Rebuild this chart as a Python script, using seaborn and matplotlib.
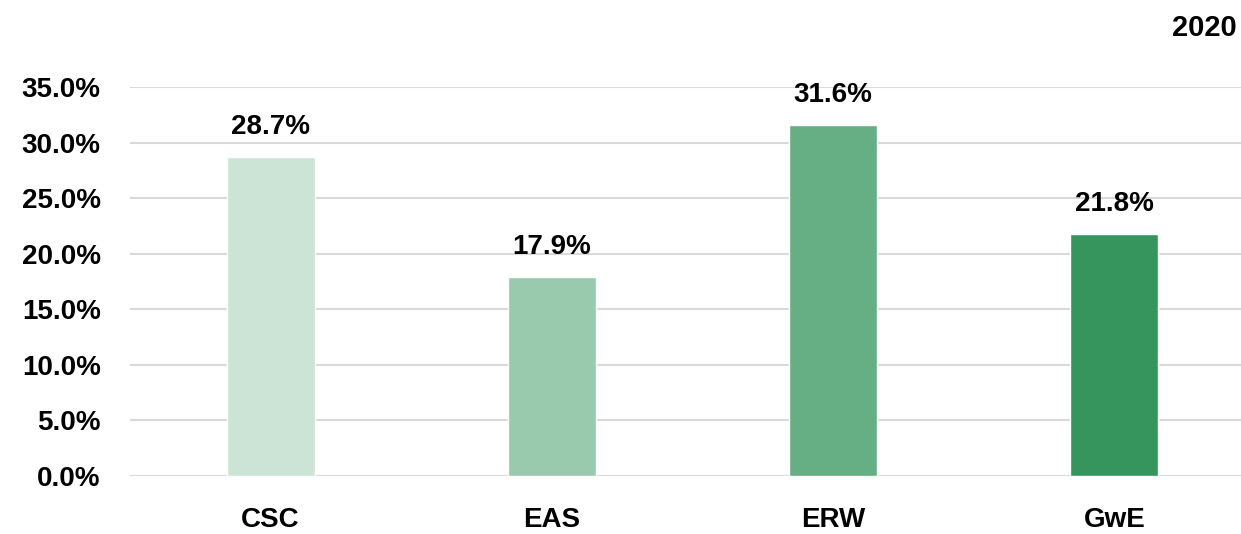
import pandas as pd
import seaborn as sns
import matplotlib.pyplot as plt
from matplotlib.ticker import PercentFormatter

# data
programmes = ['CSC', 'EAS', 'ERW', 'GwE']
share = [0.287, 0.179, 0.316, 0.218]
bar_colours = ['#cce4d6', '#99caad', '#66af85', '#35955d']
y_ticks = [0.0, 0.05, 0.10, 0.15, 0.20, 0.25, 0.30, 0.35]

df = pd.DataFrame({'Programme': programmes, 'Share': share})

sns.set_style('white')
plt.rcParams['font.family'] = ['Liberation Sans Narrow', 'Liberation Sans', 'DejaVu Sans']
plt.rcParams['font.weight'] = 'bold'
plt.rcParams['text.color'] = 'black'

fig = plt.figure(figsize=(12.41, 5.34), dpi=100)
ax = fig.add_axes([130 / 1241, 1 - 476 / 534, (1241 - 130) / 1241, (476 - 87) / 534])

sns.barplot(data=df, x='Programme', y='Share', hue='Programme',
            palette=bar_colours, saturation=1, width=0.313, legend=False,
            ax=ax, zorder=3)

ax.set_ylim(0, 0.35)
ax.set_xlim(-0.5, 3.45)
ax.set_yticks(y_ticks)
ax.yaxis.set_major_formatter(PercentFormatter(1.0, decimals=1))
ax.grid(axis='y', color='#d9d9d9', linewidth=1.5, zorder=0)
ax.set_axisbelow(True)
for s in ax.spines.values():
    s.set_visible(False)
ax.tick_params(axis='both', length=0, labelsize=20, labelcolor='black')
ax.tick_params(axis='y', pad=21)
ax.tick_params(axis='x', pad=22)
ax.set_xlabel('')
ax.set_ylabel('')

for i, v in enumerate(share):
    ax.annotate(f'{v * 100:.1f}%', (i, v), xytext=(0, 12), textcoords='offset points',
                ha='center', va='bottom', fontsize=20, fontweight='bold', color='black')

fig.text(1237 / 1241, 1 - 28 / 534, '2020', ha='right', va='center',
         fontsize=21, fontweight='bold', color='black')

fig.savefig('out.png', dpi=100)
